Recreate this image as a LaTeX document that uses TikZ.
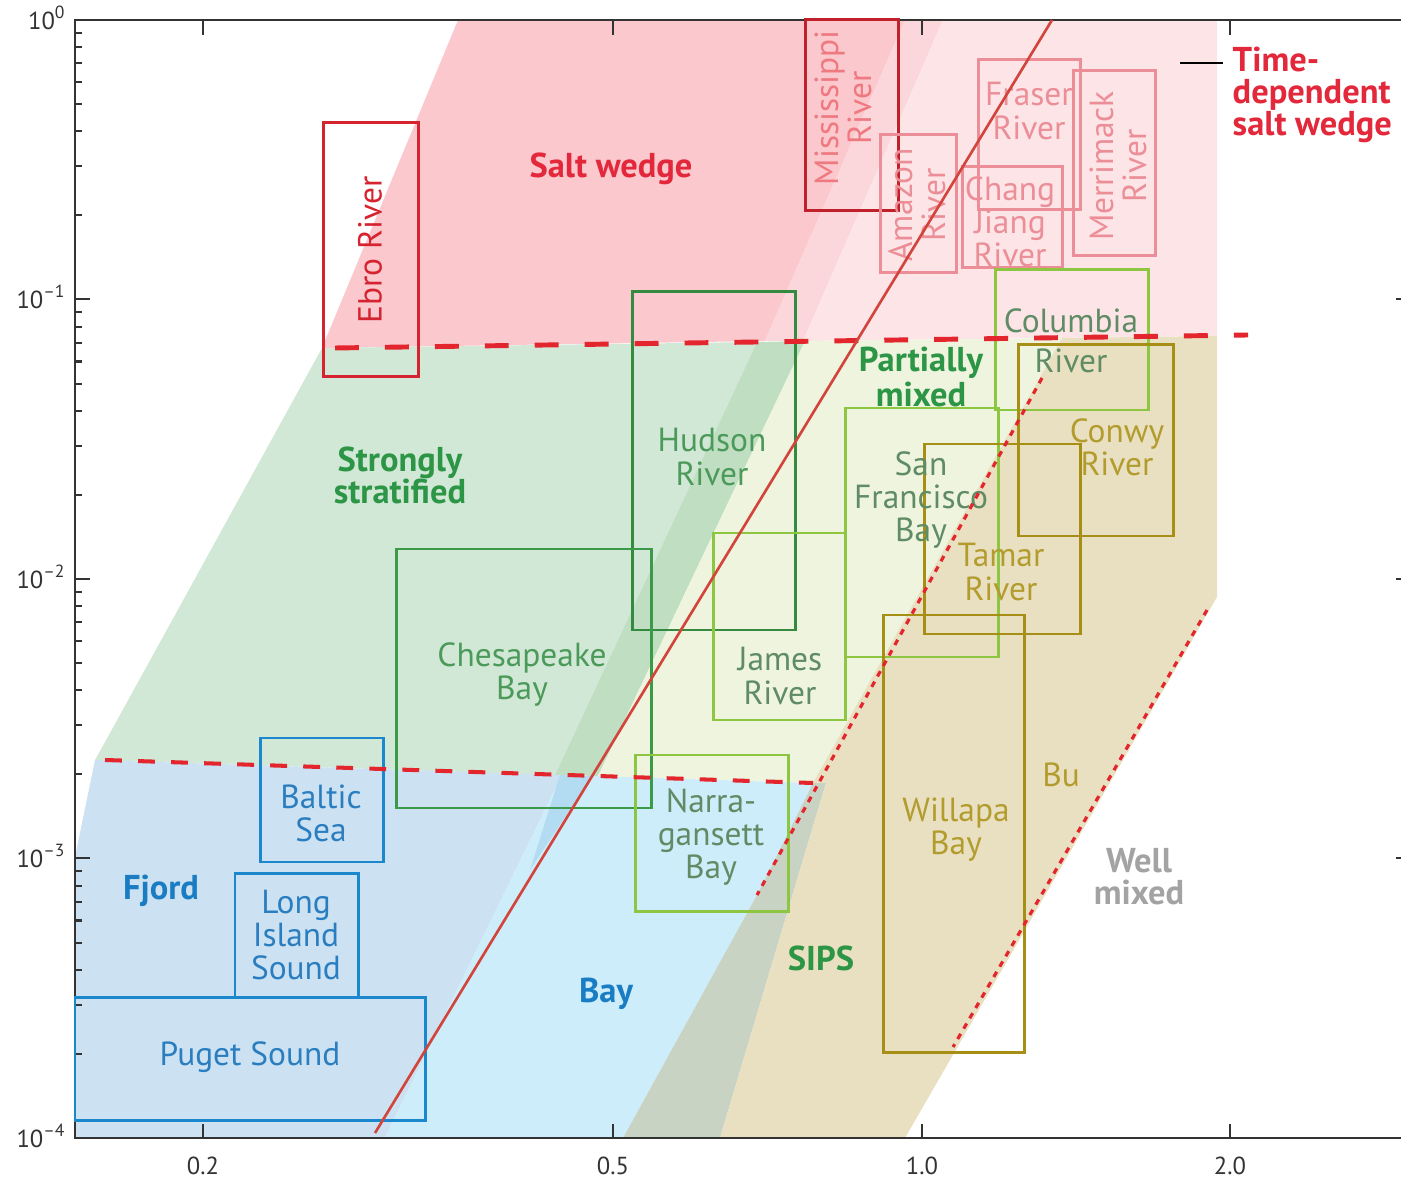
\documentclass[tikz,border=0pt]{standalone}
\usepackage{fontspec}
\setmainfont{PT Sans}
\usetikzlibrary{positioning}

\definecolor{swDark}{HTML}{FAC8CD}
\definecolor{swMid}{HTML}{FBD6DA}
\definecolor{swLight}{HTML}{FDE4E6}
\definecolor{ssGreen}{HTML}{D2E8D6}
\definecolor{ssStrip}{HTML}{C0DEC2}
\definecolor{pmPale}{HTML}{EEF4DE}
\definecolor{sipsTan}{HTML}{E9E0C1}
\definecolor{fjBlue}{HTML}{CCE2F2}
\definecolor{fjStrip}{HTML}{B3DCF3}
\definecolor{bayCyan}{HTML}{CDEDFA}
\definecolor{baySips}{HTML}{C9D3C3}
\definecolor{lineRed}{HTML}{E3262E}
\definecolor{trendRed}{HTML}{D2453D}
\definecolor{boxRed}{HTML}{D5232F}
\definecolor{boxPink}{HTML}{EC8E97}
\definecolor{boxDkGreen}{HTML}{3A9A47}
\definecolor{boxLtGreen}{HTML}{8DC641}
\definecolor{boxOlive}{HTML}{A68F14}
\definecolor{boxBlue}{HTML}{1B88CD}
\definecolor{txtGreen}{HTML}{4C9A5A}
\definecolor{txtGrGreen}{HTML}{5F8C64}
\definecolor{txtOlive}{HTML}{B39C2E}
\definecolor{txtBlue}{HTML}{2A7EC0}
\definecolor{lblGreen}{HTML}{2C9546}
\definecolor{lblRed}{HTML}{E2283A}
\definecolor{lblBlue}{HTML}{1A7DC3}
\definecolor{lblGray}{HTML}{A3A3A3}
\definecolor{axisGray}{HTML}{333333}

\tikzset{
  estbox/.style={draw, line width=0.85pt},
  boxtext/.style={font=\fontsize{9.5}{9.4}\selectfont, align=center, inner sep=0pt},
  regtext/.style={font=\fontsize{9.8}{9.1}\selectfont\bfseries, align=center, inner sep=0pt},
  ticklab/.style={font=\fontsize{7}{8}\selectfont, inner sep=0pt, text=axisGray},
  axisline/.style={draw=axisGray, line width=0.6pt},
  wedgeline/.style={lineRed, line width=1.4pt, dash pattern=on 6.8pt off 7.4pt},
  fjordline/.style={lineRed, line width=1.15pt, dash pattern=on 4.8pt off 4.6pt},
  sipsline/.style={lineRed, line width=0.9pt, dash pattern=on 1.7pt off 1.7pt},
}

\begin{document}
\begin{tikzpicture}[x=0.01cm, y=-0.01cm]
		\def\xAxL{75}
		\def\xAxR{1401}
		\def\yAxT{20}
		\def\yAxB{1138}
		\def\yDec{279.5}
		\def\xRight{1217}

\useasboundingbox (0,0) rectangle (1401,1180);

% salt wedge layer
\fill[swDark] (458,20) -- (905,20) -- (765,341) -- (322,348) -- cycle;
\fill[swMid] (905,20) -- (943,20) -- (803,341) -- (765,341) -- cycle;
\fill[swLight] (943,20) -- (\xRight,20) -- (\xRight,336) -- (803,341) -- cycle;

% stratified / partially mixed layer
\fill[ssGreen] (322,348) -- (757,342) -- (555,775) -- (95,760) -- (110,733) -- cycle;
\fill[ssStrip] (757,342) -- (805,341) -- (598,776) -- (555,775) -- cycle;
\fill[pmPale] (805,341) -- (1062,338) -- (813,783) -- (598,776) -- cycle;

% fjord / bay layer
\fill[fjBlue] (95,760) -- (562,775) -- (385,1138) -- (75,1138) -- (75,857) -- cycle;
\fill[bayCyan] (562,775) -- (813,783) -- (757,895) -- (623,1138) -- (385,1138) -- cycle;
\fill[fjStrip] (560,775) -- (592,776) -- (530,870) -- cycle;
\fill[baySips] (813,783) -- (826,783) -- (720,1138) -- (623,1138) -- (757,895) -- cycle;

% SIPS
\fill[sipsTan] (1062,338) -- (\xRight,336) -- (\xRight,597) -- (905,1138) -- (720,1138) -- (826,783) -- (813,783) -- cycle;

% axes
\draw[axisline] (\xAxR,\yAxT) -- (\xAxL,\yAxT) -- (\xAxL,\yAxB) -- (\xAxR,\yAxB);
\draw[axisline] (203,\yAxT) -- ++(0,15);
\draw[axisline] (613,\yAxT) -- ++(0,15);
\draw[axisline] (922,\yAxT) -- ++(0,15);
\draw[axisline] (1230,\yAxT) -- ++(0,15);
\draw[axisline] (203,\yAxB) -- ++(0,-14);
\draw[axisline] (613,\yAxB) -- ++(0,-14);
\draw[axisline] (922,\yAxB) -- ++(0,-14);
\draw[axisline] (1230,\yAxB) -- ++(0,-14);
\draw[axisline] (\xAxL,299) -- ++(15,0);
\draw[axisline] (\xAxL,579) -- ++(15,0);
\draw[axisline] (\xAxL,858) -- ++(15,0);
\draw[axisline] (\xAxR,299) -- ++(-5,0);
\draw[axisline] (\xAxR,579) -- ++(-5,0);
\draw[axisline] (\xAxR,858) -- ++(-5,0);
\foreach \d in {0,...,3}
	\foreach \k in {2,...,9}
		\draw[axisline] (\xAxL,{\yAxT+\yDec*(\d+1-log10(\k))}) -- ++(7,0);

\node[ticklab, anchor=east] (yl0) at (67,18) {10\textsuperscript{0}};
\node[ticklab, anchor=east] (yl1) at (67,297) {10\textsuperscript{–1}};
\node[ticklab, anchor=east] (yl2) at (67,577) {10\textsuperscript{–2}};
\node[ticklab, anchor=east] (yl3) at (67,856) {10\textsuperscript{–3}};
\node[ticklab, anchor=east] (yl4) at (67,1136) {10\textsuperscript{–4}};
\node[ticklab] (xl1) at (203,1166) {0.2};
\node[ticklab] (xl2) at (613,1166) {0.5};
\node[ticklab] (xl3) at (922,1166) {1.0};
\node[ticklab] (xl4) at (1230,1166) {2.0};

% estuaries
\draw[estbox, boxRed] (323,123) rectangle (418,377);
\draw[estbox, boxRed!90!black] (805,20) rectangle (898,211);
\draw[estbox, boxPink] (880,135) rectangle (956,273);
\draw[estbox, boxPink] (978,60) rectangle (1080,210);
\draw[estbox, boxPink] (962,167) rectangle (1062,268);
\draw[estbox, boxPink] (1073,71) rectangle (1155,256);
\draw[estbox, boxLtGreen] (995,270) rectangle (1148,410);
\draw[estbox, boxOlive] (1018,345) rectangle (1173,536);
\draw[estbox, boxLtGreen] (845,408) rectangle (998,657);
\draw[estbox, boxOlive] (924,444) rectangle (1080,634);
\draw[estbox, boxDkGreen!90!black] (632,292) rectangle (795,630);
\draw[estbox, boxLtGreen] (713,533) rectangle (845,720);
\draw[estbox, boxDkGreen] (396,549) rectangle (651,808);
\draw[estbox, boxLtGreen] (635,755) rectangle (788,911);
\draw[estbox, boxOlive] (883,615) rectangle (1024,1052);
\draw[estbox, boxBlue] (260,738) rectangle (383,862);
\draw[estbox, boxBlue] (235,873) rectangle (358,997);
\draw[estbox, boxBlue] (75,997) rectangle (425,1120);

\node[boxtext, rotate=90, text=boxRed] (ebro) at (370,250) {Ebro River};
\node[boxtext, rotate=90, text=boxPink!85!red] (miss) at (843,108) {Mississippi\\River};
\node[boxtext, rotate=90, text=boxPink] (amaz) at (917,205) {Amazon\\River};
\node[boxtext, text=boxPink] (fras) at (1029,111) {Fraser\\River};
\node[boxtext, text=boxPink] (chang) at (1010,222) {Chang\\Jiang\\River};
\node[boxtext, rotate=90, text=boxPink] (merr) at (1118,166) {Merrimack\\River};
\node[boxtext, text=txtGrGreen, font=\fontsize{9.5}{11.4}\selectfont] (colu) at (1071,341) {Columbia\\River};
\node[boxtext, text=txtOlive] (conw) at (1117,447) {Conwy\\River};
\node[boxtext, text=txtGrGreen] (sanf) at (921,500) {San\\Francisco\\Bay};
\node[boxtext, text=txtOlive] (tama) at (1001,572) {Tamar\\River};
\node[boxtext, text=txtGreen] (huds) at (712,457) {Hudson\\River};
\node[boxtext, text=txtGrGreen] (jame) at (780,676) {James\\River};
\node[boxtext, text=txtGreen] (ches) at (522,675) {Chesapeake\\Bay};
\node[boxtext, text=txtGrGreen] (narr) at (711,837) {Narra-\\gansett\\Bay};
\node[boxtext, text=txtOlive] (will) at (956,830) {Willapa\\Bay};
\node[boxtext, text=txtBlue] (balt) at (321,813) {Baltic\\Sea};
\node[boxtext, text=txtBlue] (lisd) at (296,935) {Long\\Island\\Sound};
\node[boxtext, text=txtBlue] (puge) at (250,1057) {Puget Sound};

% regime borders
\coordinate (swL) at (335,348);
\coordinate (swR) at (1248,335);
\coordinate (fjL) at (105,760);
\coordinate (fjR) at (813,783);
\coordinate (sipsT) at (1042,378);
\coordinate (sipsB) at (757,895);
\coordinate (wmT) at (1207,610);
\coordinate (wmB) at (953,1047);
\coordinate (trB) at (375,1133);
\coordinate (trT) at (1052,20);
\draw[wedgeline] (swL) -- (swR);
\draw[fjordline] (fjL) -- (fjR);
\draw[sipsline] (sipsT) -- (sipsB);
\draw[sipsline] (wmT) -- (wmB);
\draw[trendRed, line width=0.75pt] (trB) -- (trT);

% regimes
\node[regtext, text=lblRed] (salt) at (611,169) {Salt wedge};
\node[regtext, text=lblRed, align=left, anchor=west] (tdsw) at (1232,95) {Time-\\dependent\\salt wedge};
\coordinate (tdA) at (1180,63);
\coordinate (tdB) at (1223,63);
\draw[black, line width=0.7pt] (tdA) -- (tdB);
\node[regtext, text=lblGreen] (strat) at (400,475) {Strongly\\stratified};
\node[regtext, text=lblGreen, font=\fontsize{9.8}{8.6}\selectfont\bfseries] (pmix) at (921,377) {Partially\\mixed};
\node[regtext, text=lblBlue] (fjord) at (161,891) {Fjord};
\node[regtext, text=lblBlue] (bay) at (606,994) {Bay};
\node[regtext, text=lblGreen] (sips) at (821,958) {SIPS};
\node[boxtext, text=txtOlive] (bu) at (1061,775) {Bu};
\node[regtext, text=lblGray] (well) at (1139,877) {Well\\mixed};

	\end{tikzpicture}
\end{document}
